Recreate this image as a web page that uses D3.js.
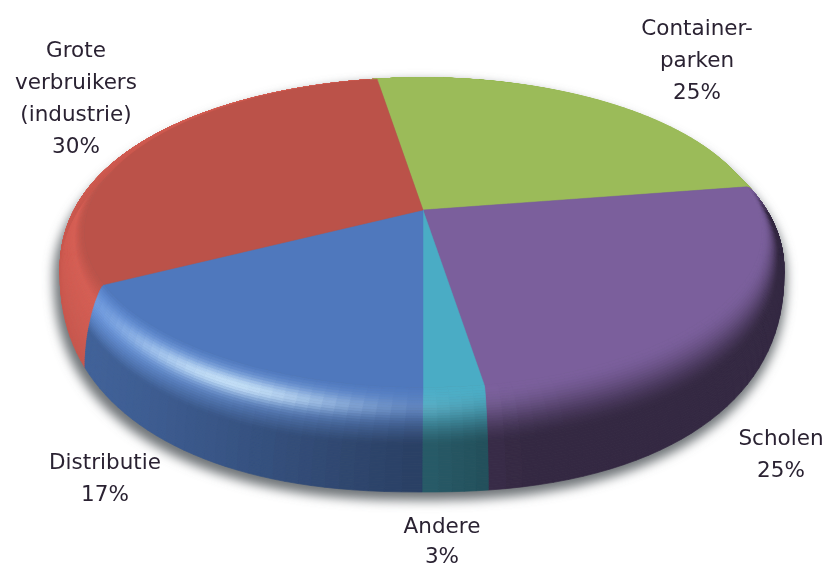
<!DOCTYPE html>
<html>
<head>
<meta charset="utf-8">
<script src="https://cdn.jsdelivr.net/npm/d3@7"></script>
<style>
  html, body { margin: 0; padding: 0; background: #fff; }
</style>
</head>
<body>
<div class="draw"></div>
<script>
// values (labels are the rounded ones)
const categories = ["Container-parken", "Scholen", "Andere", "Distributie", "Grote verbruikers (industrie)"];
const values = [25, 25, 2.5, 17.4, 30.1];
const percentLabels = ["25%", "25%", "3%", "17%", "30%"];
const labelLines = [["Container-", "parken"], ["Scholen"], ["Andere"], ["Distributie"], ["Grote", "verbruikers", "(industrie)"]];
const colors = ["#9bbb59", "#7b5f9c", "#4aacc5", "#4f78bd", "#bb5249"];
const labelCenterX = [697, 781, 442, 105, 76];
const labelTopY = [27, 437, 525, 461, 49];
const labelGap = [32, 32, 30, 32, 32];

const width = 828, height = 567;
const rad = Math.PI / 180;

const svg = d3.select(".draw").append("svg")
    .attr("width", width)
    .attr("height", height)
    .style("display", "block");

const defs = svg.append("defs");
defs.append("filter").attr("id", "shadowBlur")
    .attr("x", "-10%").attr("y", "-10%").attr("width", "120%").attr("height", "120%")
    .append("feGaussianBlur").attr("stdDeviation", 5);
defs.append("filter").attr("id", "textBlur")
    .append("feGaussianBlur").attr("stdDeviation", 0.35);

const pie = d3.pie().sort(null).value(d => d)
    .startAngle(-9 * rad)
    .endAngle(351 * rad);
const arcs = pie(values);

// flat top face, perspective circle around the apex
function facePoint(t) {
  const s = Math.sin(t), c = Math.cos(t);
  const k = 0.1455;
  const d = 1 + k * c;
  return [423 + 335 * s / d, 210 - 151.5 * c / d];
}

// outer silhouette of the base
function basePoint(t) {
  const s0 = Math.sin(t);
  const deg = ((t / rad) % 360 + 360) % 360;
  let shift = 0;
  if (deg < 172) shift = 15 * Math.sin(deg / 168 * Math.PI);
  else if (deg <= 180) shift = -0.84 * (180 - deg) / 8;
  else shift = 5 * s0;
  const a = t - shift * rad;
  const s = Math.sin(a), c = Math.cos(a);
  if (c > 0) return [422 + 362 * s, 270 - 192 * c];
  const e = 2 / 2.3;
  return [422 + 362 * Math.sign(s) * Math.pow(Math.abs(s), e), 270 + 222 * Math.pow(Math.abs(c), e)];
}

function rimPoint(t, u) {
  const f = facePoint(t), b = basePoint(t);
  const ex = Math.pow(Math.sin(u * Math.PI / 2), 0.7);
  return [f[0] + (b[0] - f[0]) * ex, f[1] + (b[1] - f[1]) * u];
}

const bevelEnd = 0.55;
const redIndex = 4;

function rimColor(i, t, u) {
  const d = Math.cos(t + 110 * rad);
  const s = Math.min(u / bevelEnd, 1);
  const smooth = s * s * (3 - 2 * s);
  const end = 0.42 + 0.4 * Math.max(0, Math.min(1, (d - 0.1) / 0.9));
  let m = 1 + (end - 1) * smooth + 0.22 * Math.max(d, 0) * Math.sin(Math.PI * s);
  if (i === redIndex) m = 1 + 0.17 * Math.min(u / 0.2, 1) - 0.1 * u;
  // the back of the pie shows no dark side
  const far = Math.max(0, Math.min(1, Math.cos(t) / 0.15));
  if (i !== redIndex) m = m + (1 - m) * far;
  const c = d3.rgb(colors[i]);
  const shaded = d3.rgb(c.r * m, c.g * m, c.b * m);
  if (i === redIndex) return shaded.formatRgb();
  // streak of light on the front left
  const dt = (t / rad + 360) % 360 - 208;
  const sigma = dt > 0 ? 16 : 14;
  const spec = 0.78 * Math.exp(-dt * dt / (2 * sigma * sigma)) * Math.exp(-Math.pow((u - 0.2) / 0.07, 2) / 2)
      + 0.1 * Math.max(d, 0) * (1 - far) * Math.sin(Math.PI * s);
  return d3.interpolateRgb(shaded, "#d6efff")(Math.min(spec, 1));
}

const closed = d3.line().curve(d3.curveLinearClosed);

// shadow under the pie
const outline = d3.range(0, 360, 2).map(a => basePoint(a * rad));
svg.append("path")
    .attr("d", closed(outline))
    .attr("transform", "translate(-2, 6) translate(422 285) scale(1.012) translate(-422 -285)")
    .attr("fill", "#6f7478")
    .attr("filter", "url(#shadowBlur)");

// rim: one strip of small cells per slice, red first because blue sits over it
const rim = svg.append("g").attr("class", "rim");
const uCount = 40;
const uSteps = d3.range(uCount).map(k => k / uCount);
[4, 0, 1, 2, 3].forEach(i => {
  const a = arcs[i];
  const n = Math.ceil((a.endAngle - a.startAngle) / (2 * rad));
  const tScale = d3.scaleLinear().domain([0, n]).range([a.startAngle, a.endAngle]);
  const cells = [];
  d3.range(n).forEach(j => {
    uSteps.forEach(u => cells.push({ j, u }));
  });
  rim.append("g").selectAll("path")
    .data(cells)
    .join("path")
    .attr("d", c => {
      const t0 = tScale(c.j), t1 = tScale(c.j + 1), u1 = c.u + 1 / uCount;
      return closed([rimPoint(t0, c.u), rimPoint(t1, c.u), rimPoint(t1, u1), rimPoint(t0, u1)]);
    })
    .each(function(c) {
      const col = rimColor(i, tScale(c.j + 0.5), c.u + 0.5 / uCount);
      d3.select(this).attr("fill", col).attr("stroke", col).attr("stroke-width", 0.7);
    });
});

// top face
svg.append("g").attr("class", "top")
  .selectAll("path")
  .data(arcs)
  .join("path")
  .attr("d", a => {
    const pts = d3.range(a.startAngle, a.endAngle, 1 * rad).map(facePoint);
    pts.push(facePoint(a.endAngle));
    pts.push([423, 210]);
    return closed(pts);
  })
  .attr("fill", (a, i) => colors[i])
  .attr("stroke", (a, i) => colors[i])
  .attr("stroke-width", 0.5);

// labels
const labels = svg.append("g").attr("class", "labels")
    .attr("filter", "url(#textBlur)")
    .attr("font-family", "'DejaVu Sans', sans-serif")
    .attr("font-size", 21.5)
    .attr("fill", "#2b2433")
    .attr("text-anchor", "middle");

categories.forEach((name, i) => {
  const rows = labelLines[i].concat(percentLabels[i]);
  rows.forEach((row, r) => {
    labels.append("text")
      .attr("x", labelCenterX[i])
      .attr("y", labelTopY[i] + r * labelGap[i])
      .attr("dy", "0.36em")
      .text(row);
  });
});
</script>
</body>
</html>
